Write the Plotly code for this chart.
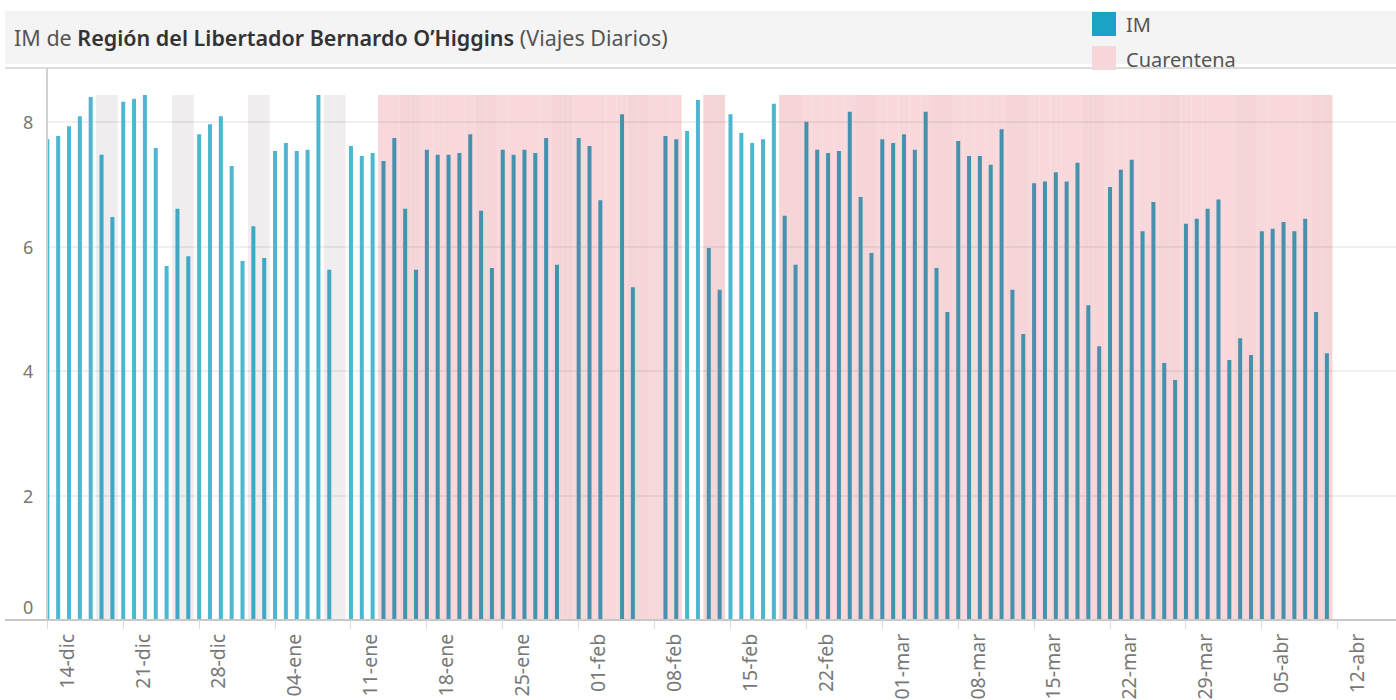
import pandas as pd
import plotly.graph_objects as go

# ---------------- data ----------------
start_date = "2020-12-14"
im_values = [
    7.73, 7.78, 7.94, 8.10, 8.41, 7.48, 6.48,   # 14-20 dic
    8.33, 8.38, 8.44, 7.59, 5.69, 6.61, 5.85,   # 21-27 dic
    7.81, 7.97, 8.10, 7.30, 5.77, 6.33, 5.82,   # 28 dic-03 ene
    7.54, 7.67, 7.54, 7.56, 8.44, 5.63, None,   # 04-10 ene
    7.62, 7.46, 7.51, 7.38, 7.75, 6.61, 5.63,   # 11-17 ene
    7.56, 7.48, 7.48, 7.51, 7.81, 6.58, 5.66,   # 18-24 ene
    7.56, 7.48, 7.56, 7.51, 7.75, 5.71, None,   # 25-31 ene
    7.75, 7.62, 6.75, None, 8.13, 5.35, None,   # 01-07 feb
    None, 7.78, 7.73, 7.86, 8.36, 5.98, 5.31,   # 08-14 feb
    8.13, 7.83, 7.67, 7.73, 8.30, 6.50, 5.71,   # 15-21 feb
    8.01, 7.56, 7.51, 7.54, 8.17, 6.80, 5.90,   # 22-28 feb
    7.73, 7.67, 7.81, 7.56, 8.17, 5.66, 4.95,   # 01-07 mar
    7.70, 7.46, 7.46, 7.32, 7.89, 5.31, 4.60,   # 08-14 mar
    7.02, 7.05, 7.20, 7.05, 7.35, 5.06, 4.40,   # 15-21 mar
    6.96, 7.24, 7.40, 6.25, 6.72, 4.13, 3.86,   # 22-28 mar
    6.37, 6.45, 6.61, 6.76, 4.18, 4.53, 4.26,   # 29 mar-04 abr
    6.25, 6.29, 6.40, 6.25, 6.45, 4.95, 4.29,   # 05-11 abr
]
cuarentena_periods = [
    ("2021-01-14", "2021-02-10"),
    ("2021-02-13", "2021-02-14"),
    ("2021-02-20", "2021-04-11"),
]
tick_dates = ["2020-12-14", "2020-12-21", "2020-12-28", "2021-01-04", "2021-01-11",
              "2021-01-18", "2021-01-25", "2021-02-01", "2021-02-08", "2021-02-15",
              "2021-02-22", "2021-03-01", "2021-03-08", "2021-03-15", "2021-03-22",
              "2021-03-29", "2021-04-05", "2021-04-12"]
tick_labels = ["14-dic", "21-dic", "28-dic", "04-ene", "11-ene", "18-ene", "25-ene",
               "01-feb", "08-feb", "15-feb", "22-feb", "01-mar", "08-mar", "15-mar",
               "22-mar", "29-mar", "05-abr", "12-abr"]
y_ticks = [0, 2, 4, 6, 8]

# ---------------- derived ----------------
dates = pd.date_range(start_date, periods=len(im_values), freq="D")
in_q = pd.Series(False, index=dates)
for a, b in cuarentena_periods:
    in_q[(dates >= pd.Timestamp(a)) & (dates <= pd.Timestamp(b))] = True
weekend = pd.Series(dates.dayofweek >= 5, index=dates)

band_top = max(v for v in im_values if v is not None)

C_WHITE = "#4db6d0"
C_GREY = "#3fa8c4"
C_PINK = "#4592ae"
bar_colors = [C_PINK if in_q[d] else (C_GREY if weekend[d] else C_WHITE) for d in dates]

we_dates = [d for d in dates if weekend[d]]
q_dates = [d for d in dates if in_q[d]]

DAY_MS = 86400000
fig = go.Figure()
fig.add_trace(go.Bar(x=we_dates, y=[band_top] * len(we_dates), width=DAY_MS,
                     marker=dict(color="#efedee", line=dict(width=0)),
                     xaxis="x", yaxis="y", hoverinfo="skip", showlegend=False))
fig.add_trace(go.Bar(x=q_dates, y=[band_top] * len(q_dates), width=DAY_MS,
                     marker=dict(color="rgba(246,207,211,0.81)", line=dict(width=0)),
                     xaxis="x", yaxis="y", name="Cuarentena", hoverinfo="skip",
                     showlegend=False))
fig.add_trace(go.Bar(x=dates, y=im_values, width=DAY_MS * 0.37,
                     marker=dict(color=bar_colors, line=dict(width=0)),
                     xaxis="x2", yaxis="y2", name="IM", showlegend=False))

# ---------------- layout ----------------
W, H = 1396, 700
ML, MR, MT, MB = 47, 0, 68, 80
PW, PH = W - ML - MR, H - MT - MB
px_per_day = 10.844
x0 = pd.Timestamp(start_date) - pd.Timedelta(hours=0.7)
x1 = x0 + pd.Timedelta(days=PW / px_per_day)
y_max = PH / 62.2
xr = [x0, x1]


def px2x(px):
    return (px - ML) / PW


def py2y(py):
    return (MT + PH - py) / PH


font_fam = "Noto Sans"
shapes = [
    dict(type="rect", xref="paper", yref="paper", x0=px2x(5), x1=1, y0=py2y(64), y1=py2y(11),
         fillcolor="#f4f4f4", line=dict(width=0), layer="below"),
    dict(type="line", xref="paper", yref="paper", x0=px2x(5), x1=1, y0=py2y(68), y1=py2y(68),
         line=dict(color="#d2d2d2", width=1.5)),
    dict(type="line", xref="paper", yref="paper", x0=px2x(5), x1=1, y0=0, y1=0,
         line=dict(color="#c8c8c8", width=2)),
    dict(type="line", xref="paper", yref="paper", x0=0, x1=0, y0=0, y1=py2y(68),
         line=dict(color="#d0d0d0", width=2)),
    dict(type="rect", xref="paper", yref="paper", x0=px2x(1092), x1=px2x(1116),
         y0=py2y(36), y1=py2y(12), fillcolor="#1ba3c6", line=dict(width=0)),
    dict(type="rect", xref="paper", yref="paper", x0=px2x(1092), x1=px2x(1116),
         y0=py2y(70), y1=py2y(46), fillcolor="#f8d7da", line=dict(width=0)),
]

annotations = [
    dict(xref="paper", yref="paper", x=px2x(12), y=py2y(38), xanchor="left", yanchor="middle",
         showarrow=False,
         text=("IM de <span style='color:#333333;font-weight:600'>Región del Libertador Bernardo O’Higgins</span>"
               " (Viajes Diarios)"),
         font=dict(family=font_fam, size=21.5, color="#555555")),
    dict(xref="paper", yref="paper", x=px2x(1124), y=py2y(25), xanchor="left", yanchor="middle",
         showarrow=False, text="IM", font=dict(family=font_fam, size=20, color="#555555")),
    dict(xref="paper", yref="paper", x=px2x(1124), y=py2y(59), xanchor="left", yanchor="middle",
         showarrow=False, text="Cuarentena", font=dict(family=font_fam, size=20, color="#555555")),
]
for t in y_ticks:
    annotations.append(dict(xref="paper", yref="y2", x=0, y=t, xanchor="right", yanchor="middle",
                            xshift=-12, yshift=13 if t == 0 else 0, showarrow=False, text=str(t),
                            font=dict(family=font_fam, size=18, color="#777777")))

fig.update_layout(
    width=W, height=H,
    margin=dict(l=ML, r=MR, t=MT, b=MB, pad=0),
    paper_bgcolor="white", plot_bgcolor="rgba(0,0,0,0)",
    barmode="overlay", showlegend=False,
    font=dict(family=font_fam, color="#777777"),
    xaxis=dict(domain=[0, 1], anchor="y", type="date", range=xr,
               tickvals=tick_dates, ticktext=tick_labels, tickangle=-90,
               tickfont=dict(family=font_fam, size=19.5, color="#777777"),
               ticks="outside", ticklen=8, tickwidth=1, tickcolor="#dddddd",
               ticklabelshift=20, ticklabelstandoff=-3,
               showgrid=False, zeroline=False, showline=False),
    yaxis=dict(domain=[0, 1], anchor="x", range=[0, y_max], showgrid=False,
               showticklabels=False, zeroline=False, ticks="", showline=False),
    xaxis2=dict(domain=[0, 1], anchor="y2", type="date", range=xr, visible=False),
    yaxis2=dict(domain=[0, 1], anchor="x2", range=[0, y_max], tickvals=y_ticks[1:],
                showgrid=True, gridcolor="rgba(0,0,0,0.06)", gridwidth=2,
                showticklabels=False, zeroline=False, ticks="", showline=False),
    shapes=shapes, annotations=annotations,
)

fig.write_html("out.html", config={"displayModeBar": False},
               post_script="document.body.style.margin='0';document.body.style.overflow='hidden';")
